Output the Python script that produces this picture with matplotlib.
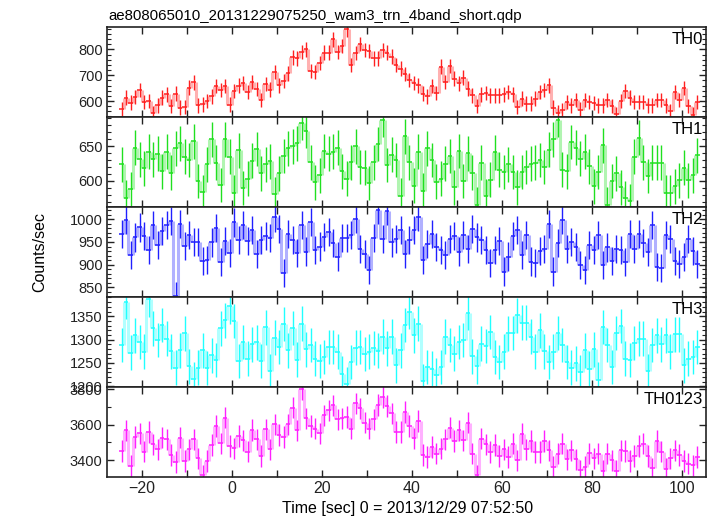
import matplotlib
matplotlib.use('Agg')
import matplotlib.pyplot as plt
import numpy as np
from matplotlib.ticker import MultipleLocator, FuncFormatter

plt.rcParams['font.family'] = ['Liberation Sans Narrow', 'Liberation Sans', 'DejaVu Sans']

# light curve, 1 s bins starting at t = -25 s
time_start = -25.0
bin_size = 1.0

th0 = [570, 613, 594, 616, 643, 596, 600, 554, 583, 613,
       626, 580, 629, 574, 577, 652, 672, 583, 587, 599,
       618, 659, 642, 659, 586, 639, 660, 670, 635, 674,
       646, 603, 665, 644, 713, 661, 677, 707, 769, 765,
       791, 800, 716, 713, 748, 788, 788, 839, 791, 813,
       878, 739, 787, 821, 797, 795, 765, 765, 797, 788,
       772, 739, 726, 704, 681, 670, 661, 629, 618, 659,
       631, 733, 674, 736, 687, 668, 691, 648, 622, 580,
       626, 631, 622, 622, 622, 626, 635, 626, 577, 609,
       590, 590, 609, 635, 642, 661, 574, 555, 564, 596,
       583, 605, 567, 603, 596, 593, 583, 583, 605, 580,
       548, 600, 638, 613, 596, 596, 596, 583, 583, 603,
       605, 583, 561, 635, 603, 651, 580, 547, 596]

th1 = [624, 576, 588, 648, 631, 618, 642, 631, 639, 614,
       642, 612, 647, 654, 635, 630, 657, 600, 584, 624,
       660, 626, 594, 660, 635, 583, 644, 590, 603, 629,
       646, 611, 624, 628, 581, 611, 636, 647, 650, 654,
       684, 672, 627, 598, 608, 643, 639, 642, 648, 614,
       603, 627, 650, 620, 619, 597, 627, 653, 688, 623,
       638, 630, 579, 664, 627, 593, 642, 586, 647, 630,
       599, 603, 625, 636, 591, 643, 600, 640, 612, 566,
       626, 578, 602, 641, 616, 613, 624, 613, 591, 613,
       620, 625, 626, 630, 620, 645, 660, 688, 616, 614,
       656, 648, 632, 642, 621, 592, 613, 651, 566, 600,
       611, 591, 575, 571, 635, 662, 627, 607, 626, 626,
       626, 583, 583, 592, 601, 619, 601, 608, 637]

th2 = [968, 999, 921, 960, 982, 963, 932, 987, 943, 974,
       987, 996, 832, 990, 941, 966, 950, 950, 908, 911,
       949, 981, 906, 952, 926, 993, 954, 987, 952, 976,
       923, 954, 963, 959, 1004, 978, 882, 967, 955, 926,
       987, 929, 994, 933, 940, 961, 972, 948, 918, 959,
       959, 965, 1001, 935, 924, 889, 959, 1021, 957, 1018,
       949, 957, 977, 924, 955, 977, 1005, 911, 946, 968,
       939, 932, 922, 957, 963, 929, 965, 935, 978, 960,
       954, 932, 904, 933, 952, 885, 918, 963, 976, 922,
       965, 907, 904, 930, 935, 990, 885, 948, 999, 935,
       950, 939, 899, 889, 943, 932, 965, 899, 938, 908,
       935, 933, 906, 967, 935, 968, 948, 928, 988, 895,
       893, 966, 957, 908, 902, 917, 957, 930, 902]

th3 = [1288, 1381, 1272, 1309, 1295, 1274, 1386, 1324, 1299, 1331,
       1302, 1275, 1240, 1277, 1313, 1243, 1216, 1240, 1277, 1239,
       1266, 1256, 1324, 1341, 1371, 1340, 1254, 1295, 1259, 1290,
       1294, 1254, 1326, 1232, 1304, 1284, 1333, 1277, 1325, 1257,
       1334, 1279, 1288, 1259, 1254, 1263, 1284, 1284, 1274, 1227,
       1204, 1252, 1283, 1284, 1269, 1274, 1282, 1276, 1306, 1281,
       1306, 1245, 1277, 1331, 1359, 1309, 1334, 1211, 1241, 1238,
       1224, 1241, 1306, 1288, 1270, 1295, 1299, 1357, 1264, 1243,
       1291, 1286, 1316, 1263, 1252, 1274, 1313, 1314, 1352, 1336,
       1336, 1306, 1274, 1320, 1275, 1252, 1274, 1314, 1288, 1252,
       1240, 1249, 1231, 1277, 1238, 1279, 1214, 1327, 1288, 1241,
       1314, 1329, 1259, 1256, 1293, 1302, 1302, 1232, 1288, 1309,
       1290, 1309, 1274, 1311, 1311, 1245, 1259, 1263, 1284]

th0123 = [3452, 3569, 3368, 3531, 3552, 3449, 3559, 3490, 3462, 3527,
          3518, 3430, 3391, 3527, 3396, 3462, 3518, 3411, 3316, 3396,
          3486, 3593, 3496, 3640, 3481, 3468, 3537, 3512, 3449, 3571,
          3518, 3424, 3574, 3462, 3602, 3542, 3531, 3602, 3696, 3569,
          3799, 3636, 3593, 3578, 3552, 3653, 3681, 3709, 3631, 3636,
          3644, 3578, 3721, 3692, 3612, 3578, 3631, 3711, 3756, 3706,
          3664, 3559, 3559, 3672, 3593, 3524, 3621, 3430, 3419, 3475,
          3438, 3466, 3518, 3584, 3509, 3569, 3512, 3612, 3438, 3316,
          3522, 3490, 3447, 3486, 3424, 3462, 3419, 3494, 3400, 3550,
          3462, 3509, 3447, 3447, 3509, 3456, 3362, 3438, 3494, 3406,
          3456, 3406, 3344, 3362, 3439, 3411, 3438, 3340, 3438, 3400,
          3340, 3456, 3452, 3396, 3424, 3481, 3494, 3424, 3355, 3509,
          3449, 3353, 3411, 3456, 3430, 3396, 3381, 3372, 3419]

# typical 1-sigma error per band (c/s)
errors = [28, 25, 31, 37, 60]

names = ['TH0', 'TH1', 'TH2', 'TH3', 'TH0123']
colors = ['#ff2020', '#20e020', '#2020ff', '#20ffff', '#ff20ff']
ylims = [(538, 887), (562.5, 692), (829, 1027), (1198.6, 1391), (3306, 3812)]
major = [100, 50, 50, 50, 200]
minor = [20, 10, 10, 10, 100]
series = [th0, th1, th2, th3, th0123]

fig = plt.figure(figsize=(7.17, 5.16), dpi=100)
left, right = 106.7 / 717, 706 / 717
top_px, h_px = 27, 90

axes = []
for i in range(5):
    y0 = 1 - (top_px + (i + 1) * h_px) / 516
    ax = fig.add_axes([left, y0, right - left, h_px / 516])
    axes.append(ax)

    rate = np.array(series[i], dtype=float)
    n = len(rate)
    edges = time_start + bin_size * np.arange(n + 1)
    centers = 0.5 * (edges[:-1] + edges[1:])
    c = colors[i]

    # step: crisp horizontals, soft verticals
    ax.hlines(rate, edges[:-1], edges[1:], color=c, lw=1.1)
    ax.vlines(edges[1:-1], rate[:-1], rate[1:], color=c, lw=2.2, alpha=0.35)
    # error bars
    ax.vlines(centers, rate - errors[i], rate + errors[i], color=c, lw=1.0)

    ax.set_xlim(-27.8, 105.4)
    ax.set_ylim(*ylims[i])
    ax.xaxis.set_major_locator(MultipleLocator(10))
    ax.yaxis.set_major_locator(MultipleLocator(major[i]))
    ax.yaxis.set_minor_locator(MultipleLocator(minor[i]))
    ax.tick_params(axis='both', which='both', direction='in',
                   top=True, right=True, labelsize=10.5, pad=3, colors='#222222')
    ax.tick_params(axis='both', which='major', length=5, width=1)
    ax.tick_params(axis='y', which='minor', length=3, width=0.8)
    for sp in ax.spines.values():
        sp.set_color('#222222')
        sp.set_linewidth(1.2)
    ax.text(0.995, 0.94, names[i], transform=ax.transAxes, ha='right', va='top',
            fontsize=12, color='black')
    if i < 4:
        ax.tick_params(axis='x', labelbottom=False)
    else:
        ax.xaxis.set_major_formatter(
            FuncFormatter(lambda v, p: ('%d' % v).replace('-', '\u2212') if round(v) % 20 == 0 else ''))
        ax.tick_params(axis='x', labelsize=11.5)

fig.text(left + 0.002, 1 - 20 / 516, 'ae808065010_20131229075250_wam3_trn_4band_short.qdp',
         ha='left', va='baseline', fontsize=10.8)
fig.text(40 / 717, 1 - 252 / 516, 'Counts/sec', rotation=90, ha='center', va='center', fontsize=11.5)
fig.text(408 / 717, 1 - 508 / 516, 'Time [sec] 0 = 2013/12/29 07:52:50', ha='center', va='center',
         fontsize=11.5)

fig.savefig('out.png', dpi=100)
